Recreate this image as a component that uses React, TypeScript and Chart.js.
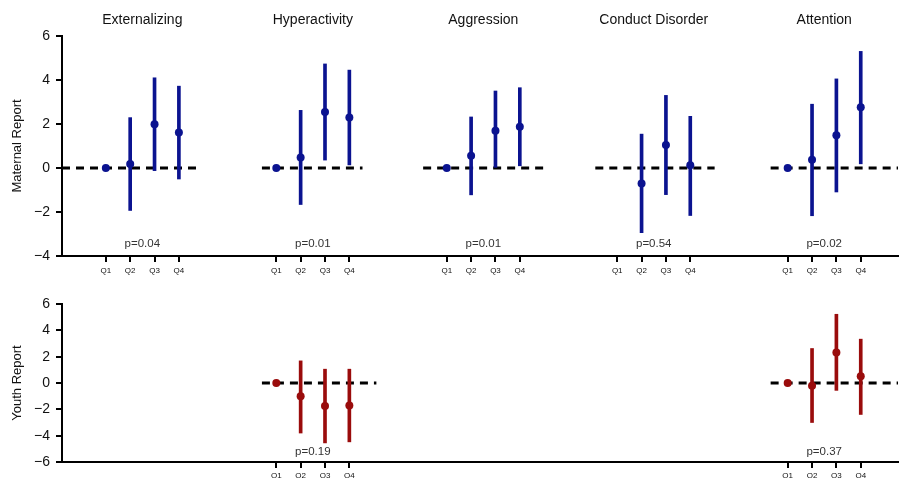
import React, { useEffect, useRef } from 'react';
import { Chart, registerables } from 'chart.js';
Chart.register(...registerables);

const groups = ['Externalizing', 'Hyperactivity', 'Aggression', 'Conduct Disorder', 'Attention'];
const quartiles = ['Q1', 'Q2', 'Q3', 'Q4'];
const groupStep = 7;

// Maternal report (estimate, lower CI, upper CI) per group, Q1..Q4
const maternalEst: (number | null)[][] = [
  [0, 0.18, 1.99, 1.61],
  [0, 0.48, 2.55, 2.29],
  [0, 0.56, 1.69, 1.88],
  [null, -0.7, 1.05, 0.12],
  [0, 0.38, 1.49, 2.76],
];
const maternalLow: (number | null)[][] = [
  [null, -1.93, -0.12, -0.5],
  [null, -1.66, 0.36, 0.14],
  [null, -1.22, 0.03, 0.1],
  [null, -2.94, -1.21, -2.16],
  [null, -2.17, -1.09, 0.19],
];
const maternalHigh: (number | null)[][] = [
  [null, 2.29, 4.1, 3.72],
  [null, 2.62, 4.73, 4.45],
  [null, 2.32, 3.5, 3.65],
  [null, 1.54, 3.3, 2.35],
  [null, 2.9, 4.05, 5.3],
];
const maternalP: (string | null)[] = ['p=0.04', 'p=0.01', 'p=0.01', 'p=0.54', 'p=0.02'];
// zero reference segment extents (x, relative to each group's Q1)
const maternalRef: ([number, number] | null)[] = [
  [-1.8, 3.92],
  [-0.59, 3.54],
  [-0.97, 4.0],
  [-0.9, 4.0],
  [-0.7, 4.6],
];
const maternalTickGroups = [0, 1, 2, 3, 4];

// Youth report
const youthEst: ((number | null)[] | null)[] = [null, [0, -1.0, -1.75, -1.7], null, null, [0, -0.2, 2.32, 0.51]];
const youthLow: ((number | null)[] | null)[] = [null, [null, -3.8, -4.55, -4.47], null, null, [null, -3.0, -0.56, -2.39]];
const youthHigh: ((number | null)[] | null)[] = [null, [null, 1.68, 1.05, 1.05], null, null, [null, 2.62, 5.22, 3.33]];
const youthP: (string | null)[] = [null, 'p=0.19', null, null, 'p=0.37'];
const youthRef: ([number, number] | null)[] = [null, [-0.59, 4.11], null, null, [-0.7, 4.6]];
const youthTickGroups = [1, 4];

const FONT = "'Liberation Sans', Arial, sans-serif";
const BLUE = '#0b1390';
const RED = '#9a0c0c';

type PanelSpec = {
  est: ((number | null)[] | null)[];
  low: ((number | null)[] | null)[];
  high: ((number | null)[] | null)[];
  pvals: (string | null)[];
  ref: ([number, number] | null)[];
  tickGroups: number[];
  color: string;
  yMin: number;
  yMax: number;
  yTitle: string;
  padTop: number;
  xHeight: number;
  xLabelPad: number;
  pOffset: number;
  showTitles: boolean;
};

function makeConfig(p: PanelSpec): any {
  const points: any[] = [];
  const bars: any[] = [];
  p.est.forEach((row, g) => {
    if (!row) return;
    row.forEach((v, q) => {
      const x = g * groupStep + q;
      if (v !== null) points.push({ x, y: v });
      const lo = p.low[g]?.[q];
      const hi = p.high[g]?.[q];
      if (lo != null && hi != null) bars.push({ x, y: [lo, hi] });
    });
  });
  const refSets = p.ref
    .map((r, g) =>
      r
        ? {
            type: 'line',
            data: [
              { x: g * groupStep + r[0], y: 0 },
              { x: g * groupStep + r[1], y: 0 },
            ],
            borderColor: '#000',
            borderWidth: 3,
            borderDash: [8, 6],
            pointRadius: 0,
            order: 3,
          }
        : null
    )
    .filter(Boolean);

  const tickValues = p.tickGroups.flatMap((g) => quartiles.map((_, q) => g * groupStep + q));

  const textPlugin = {
    id: 'panelText',
    afterDraw(chart: any) {
      const ctx = chart.ctx;
      const xs = chart.scales.x;
      const area = chart.chartArea;
      ctx.save();
      ctx.textAlign = 'center';
      ctx.textBaseline = 'middle';
      if (p.showTitles) {
        ctx.fillStyle = '#111';
        ctx.font = `14px ${FONT}`;
        groups.forEach((name, g) => {
          ctx.fillText(name, xs.getPixelForValue(g * groupStep + 1.5), 20);
        });
      }
      ctx.fillStyle = '#333';
      ctx.font = `11.5px ${FONT}`;
      p.pvals.forEach((t, g) => {
        if (!t) return;
        ctx.fillText(t, xs.getPixelForValue(g * groupStep + 1.5), area.bottom - p.pOffset);
      });
      ctx.restore();
    },
  };

  return {
    type: 'bar',
    data: {
      datasets: [
        {
          type: 'line',
          data: points,
          showLine: false,
          pointRadius: 4,
          pointBackgroundColor: p.color,
          pointBorderColor: p.color,
          pointBorderWidth: 0,
          order: 1,
        },
        {
          type: 'bar',
          data: bars,
          backgroundColor: p.color,
          barThickness: 3,
          grouped: false,
          order: 2,
        },
        ...refSets,
      ],
    },
    options: {
      animation: false,
      responsive: false,
      events: [],
      layout: { padding: { top: p.padTop, left: 0, right: 0, bottom: 0 } },
      plugins: { legend: { display: false }, tooltip: { enabled: false } },
      scales: {
        x: {
          type: 'linear',
          min: -1.8,
          max: 32.53,
          offset: false,
          afterBuildTicks: (scale: any) => {
            scale.ticks = tickValues.map((v) => ({ value: v }));
          },
          afterFit: (scale: any) => {
            scale.height = p.xHeight;
          },
          ticks: {
            autoSkip: false,
            maxRotation: 0,
            padding: p.xLabelPad,
            color: '#111',
            font: { family: FONT, size: 8 },
            callback: (_v: any, i: number) => quartiles[i % 4],
          },
          grid: {
            display: true,
            offset: false,
            drawOnChartArea: false,
            drawTicks: true,
            tickLength: 6,
            color: '#000',
            lineWidth: 2,
          },
          border: { display: true, color: '#000', width: 2 },
        },
        y: {
          type: 'linear',
          min: p.yMin,
          max: p.yMax,
          afterFit: (scale: any) => {
            scale.width = 62;
          },
          ticks: {
            stepSize: 2,
            padding: 6,
            color: '#111',
            font: { family: FONT, size: 14 },
            callback: (v: number) => String(v).replace('-', '\u2212'),
          },
          grid: {
            display: true,
            offset: false,
            drawOnChartArea: false,
            drawTicks: true,
            tickLength: 6,
            color: '#000',
            lineWidth: 2,
          },
          border: { display: true, color: '#000', width: 2 },
          title: {
            display: true,
            text: p.yTitle,
            color: '#111',
            font: { family: FONT, size: 13 },
            padding: { top: 10, bottom: 0 },
          },
        },
      },
    },
    plugins: [textPlugin],
  };
}

function Panel({ spec, width, height }: { spec: PanelSpec; width: number; height: number }) {
  const ref = useRef<HTMLCanvasElement | null>(null);
  useEffect(() => {
    if (!ref.current) return;
    const chart = new Chart(ref.current, makeConfig(spec));
    return () => chart.destroy();
  }, [spec]);
  return (
    <div style={{ width, height }}>
      <canvas ref={ref} width={width} height={height} style={{ display: 'block', width, height }} />
    </div>
  );
}

const maternalSpec: PanelSpec = {
  est: maternalEst,
  low: maternalLow,
  high: maternalHigh,
  pvals: maternalP,
  ref: maternalRef,
  tickGroups: maternalTickGroups,
  color: BLUE,
  yMin: -4,
  yMax: 6,
  yTitle: 'Maternal Report',
  padTop: 36,
  xHeight: 24,
  xLabelPad: 4,
  pOffset: 12,
  showTitles: true,
};

const youthSpec: PanelSpec = {
  est: youthEst,
  low: youthLow,
  high: youthHigh,
  pvals: youthP,
  ref: youthRef,
  tickGroups: youthTickGroups,
  color: RED,
  yMin: -6,
  yMax: 6,
  yTitle: 'Youth Report',
  padTop: 24,
  xHeight: 16,
  xLabelPad: 3,
  pOffset: 10,
  showTitles: false,
};

export default function App() {
  return (
    <div style={{ position: 'absolute', left: 0, top: 0, width: 902, height: 478, background: '#fff' }}>
      <Panel spec={maternalSpec} width={902} height={280} />
      <Panel spec={youthSpec} width={902} height={198} />
    </div>
  );
}
